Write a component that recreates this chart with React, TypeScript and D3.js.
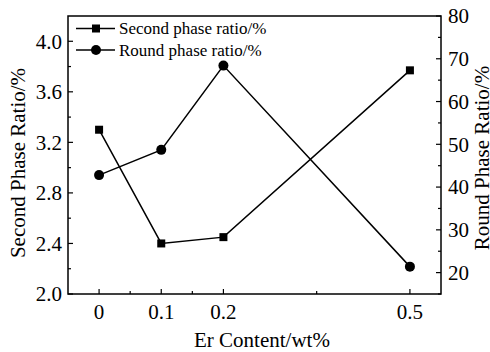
import React from "react";
import * as d3 from "d3";

const erContent = [0, 0.1, 0.2, 0.5];
const secondPhase = [3.3, 2.4, 2.45, 3.77];
const roundPhase = [42.8, 48.7, 68.4, 21.4];
const xTickValues = [0, 0.1, 0.2, 0.5];
const xMinorTicks = [0.05, 0.15, 0.35];
const leftTicks = [2.0, 2.4, 2.8, 3.2, 3.6, 4.0];
const rightTicks = [20, 30, 40, 50, 60, 70, 80];

const W = 490, H = 352;
const L = 68, R = 441, T = 16, B = 294;
const FONT = "'Liberation Serif', 'Times New Roman', serif";

export default function App() {
  const x = d3.scaleLinear().domain([-0.05, 0.55]).range([L, R]);
  const yL = d3.scaleLinear().domain([2.0, 4.2]).range([B, T]);
  const yR = d3.scaleLinear().domain([15, 80]).range([B, T]);

  const leftMinor = d3.range(2.2, 4.2, 0.4);
  const rightMinor = d3.range(15, 80, 10);

  const lineL = d3.line<number>().x((_, i) => x(erContent[i])).y((d) => yL(d));
  const lineR = d3.line<number>().x((_, i) => x(erContent[i])).y((d) => yR(d));

  const sq = 8;
  return (
    <svg width={W} height={H} style={{ position: "absolute", left: 0, top: 0, background: "#fff" }} fontFamily={FONT}>
      <rect x={0} y={0} width={W} height={H} fill="#fff" />
      <rect x={L} y={T} width={R - L} height={B - T} fill="none" stroke="#000" strokeWidth={1.5} />
      {/* x ticks */}
      {xTickValues.map((v) => (
        <g key={"xt" + v}>
          <line x1={x(v)} x2={x(v)} y1={B} y2={B - 5} stroke="#000" strokeWidth={1.2} />
          <text x={x(v)} y={319} fontSize={21} textAnchor="middle">{String(v)}</text>
        </g>
      ))}
      {xMinorTicks.map((v) => (
        <line key={"xm" + v} x1={x(v)} x2={x(v)} y1={B} y2={B - 3} stroke="#000" strokeWidth={1.2} />
      ))}
      {/* left ticks */}
      {leftTicks.map((v) => (
        <g key={"lt" + v}>
          <line x1={L} x2={L + 5} y1={yL(v)} y2={yL(v)} stroke="#000" strokeWidth={1.2} />
          <text x={62} y={yL(v)} dy="0.35em" fontSize={21} textAnchor="end">{v.toFixed(1)}</text>
        </g>
      ))}
      {leftMinor.map((v) => (
        <line key={"lm" + v} x1={L} x2={L + 3} y1={yL(v)} y2={yL(v)} stroke="#000" strokeWidth={1.2} />
      ))}
      {/* right ticks */}
      {rightTicks.map((v) => (
        <g key={"rt" + v}>
          <line x1={R} x2={R - 5} y1={yR(v)} y2={yR(v)} stroke="#000" strokeWidth={1.2} />
          <text x={448} y={yR(v)} dy="0.35em" fontSize={21} textAnchor="start">{v}</text>
        </g>
      ))}
      {rightMinor.map((v) => (
        <line key={"rm" + v} x1={R} x2={R - 3} y1={yR(v)} y2={yR(v)} stroke="#000" strokeWidth={1.2} />
      ))}
      {/* axis titles */}
      <text x={262} y={347} fontSize={21} textAnchor="middle">Er Content/wt%</text>
      <text transform={`translate(25,${(T + B) / 2 + 8}) rotate(-90)`} fontSize={21} textAnchor="middle">Second Phase Ratio/%</text>
      <text transform={`translate(489,${(T + B) / 2 + 3}) rotate(-90)`} fontSize={21} textAnchor="middle">Round Phase Ratio/%</text>
      {/* series */}
      <path d={lineL(secondPhase) || ""} fill="none" stroke="#000" strokeWidth={1.5} />
      <path d={lineR(roundPhase) || ""} fill="none" stroke="#000" strokeWidth={1.5} />
      {secondPhase.map((v, i) => (
        <rect key={"s" + i} x={x(erContent[i]) - sq / 2} y={yL(v) - sq / 2} width={sq} height={sq} fill="#000" />
      ))}
      {roundPhase.map((v, i) => (
        <circle key={"c" + i} cx={x(erContent[i])} cy={yR(v)} r={5} fill="#000" />
      ))}
      {/* legend */}
      <line x1={76} x2={115} y1={28.5} y2={28.5} stroke="#000" strokeWidth={1.5} />
      <rect x={96 - sq / 2} y={28.5 - sq / 2} width={sq} height={sq} fill="#000" />
      <text x={119} y={34} fontSize={17}>Second phase ratio/%</text>
      <line x1={76} x2={115} y1={50} y2={50} stroke="#000" strokeWidth={1.5} />
      <circle cx={96} cy={50} r={5} fill="#000" />
      <text x={119} y={55.5} fontSize={17}>Round phase ratio/%</text>
    </svg>
  );
}
